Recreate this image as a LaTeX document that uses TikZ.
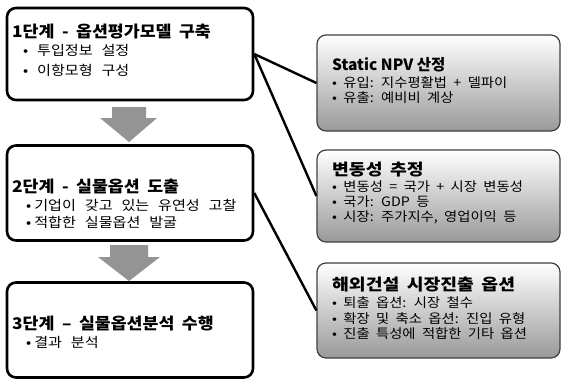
\documentclass[tikz,border=0pt]{standalone}
\usepackage{fontspec}
\setmainfont{Noto Sans CJK KR}
\newfontfamily\stagetitlefont[WordSpace=1.9,FakeStretch=1.08]{Noto Sans CJK KR}
\newfontfamily\stagefont[WordSpace=2.6,FakeStretch=1.12]{Noto Sans CJK KR}
\newfontfamily\infotitlefont[WordSpace=1.8,FakeStretch=1.14]{Noto Sans CJK KR}
\newfontfamily\infofont[WordSpace=2,FakeStretch=1.1]{Noto Sans CJK KR}

\begin{document}
\begin{tikzpicture}
    [x=1pt,y=-1pt,
     stage/.style={draw,line width=2.6pt,rounded corners=9pt,fill=white,
       minimum width=246pt,inner sep=0pt},
     info/.style={draw=black!75,line width=1.2pt,rounded corners=9pt,
       top color=white,bottom color=black!40,minimum width=243pt,inner sep=0pt},
     stagetitle/.style={anchor=west,inner sep=0pt,font=\stagetitlefont\fontsize{16}{18}\selectfont\bfseries},
     stageitem/.style={anchor=west,inner sep=0pt,font=\stagefont\fontsize{13.5}{15}\selectfont},
     infotitle/.style={anchor=west,inner sep=0pt,font=\infotitlefont\fontsize{16}{18}\selectfont\bfseries},
     item/.style={anchor=west,inner sep=0pt,font=\infofont\fontsize{13}{15}\selectfont},
     link/.style={line width=2.4pt},
     downarrow/.style={fill=black!42}]
    \useasboundingbox (0,0) rectangle (562,381);
    % stages on the left
    \node[stage,minimum height=92pt] (s1) at (130,54) {};
    \node[stage,minimum height=95pt] (s2) at (130,193) {};
    \node[stage,minimum height=95pt] (s3) at (130,330) {};
    % boxes on the right
    \node[info,minimum height=96pt] (sa) at (438.5,83) {};
    \node[info,minimum height=92pt] (sb) at (438.5,196) {};
    \node[info,minimum height=95pt] (sc) at (438.5,310.5) {};
    \draw[link] (s1.east) -- (sa.west) ;
    \draw[link] (s1.east) -- (sb.west) ;
    \draw[link] (s2.east) -- (sc.west) ;
    \fill[downarrow] (112,107) -- (146,107) -- (146,118) -- (157,118) -- (129,142)
      -- (100,118) -- (112,118) -- cycle ;
    \fill[downarrow] (110,245) -- (148,245) -- (148,257) -- (160,257) -- (129,281)
      -- (98,257) -- (110,257) -- cycle ;
    % texts
    \node[stagetitle] (s1t) at (12,32) {1단계 - 옵션평가모델 구축};
    \node[stageitem] (s1a) at (23,50) {• 투입정보 설정};
    \node[stageitem] (s1b) at (23,70) {• 이항모형 구성};
    \node[stagetitle] (s2t) at (12,186) {2단계 - 실물옵션 도출};
    \node[stageitem] (s2a) at (26,205) {•\hspace{3pt}기업이 갖고 있는 유연성 고찰};
    \node[stageitem] (s2b) at (26,222) {•\hspace{3pt}적합한 실물옵션 발굴};
    \node[stagetitle] (s3t) at (12,324) {3단계 – 실물옵션분석 수행};
    \node[stageitem] (s3a) at (26,342) {•\hspace{3pt}결과 분석};
    \node[anchor=west,inner sep=0pt,font=\fontsize{15.5}{17}\selectfont\bfseries] (sat) at (332,65) {Static NPV 산정};
    \node[item] (saa) at (332,83) {• 유입: 지수평활법 + 델파이};
    \node[item] (sab) at (332,98) {• 유출: 예비비 계상};
    \node[infotitle] (sbt) at (332,170) {변동성 추정};
    \node[item] (sba) at (332,187) {• 변동성 = 국가 + 시장 변동성};
    \node[item] (sbb) at (332,202) {• 국가: GDP 등};
    \node[item] (sbc) at (332,217) {• 시장: 주가지수, 영업이익 등};
    \node[infotitle] (sct) at (332,285) {해외건설 시장진출 옵션};
    \node[item] (sca) at (332,303) {• 퇴출 옵션: 시장 철수};
    \node[item] (scb) at (332,319) {• 확장 및 축소 옵션: 진입 유형};
    \node[item] (scc) at (332,334) {• 진출 특성에 적합한 기타 옵션};
\end{tikzpicture}
\end{document}
